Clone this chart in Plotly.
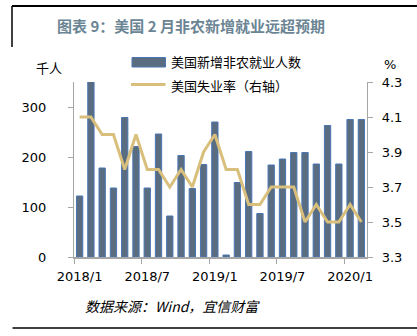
import plotly.graph_objects as go

# ---- data ----
months = ["2018/1", "2018/2", "2018/3", "2018/4", "2018/5", "2018/6", "2018/7", "2018/8",
          "2018/9", "2018/10", "2018/11", "2018/12", "2019/1", "2019/2", "2019/3", "2019/4",
          "2019/5", "2019/6", "2019/7", "2019/8", "2019/9", "2019/10", "2019/11", "2019/12",
          "2020/1", "2020/2"]
payrolls = [122, 355, 178, 138, 279, 221, 138, 246, 82, 203, 137, 185, 270, 4, 149, 211,
            87, 184, 196, 209, 209, 186, 263, 186, 275, 275]
unemployment = [4.1, 4.1, 4.0, 4.0, 3.8, 4.0, 3.8, 3.8, 3.7, 3.8, 3.7, 3.9, 4.0, 3.8, 3.8, 3.6,
                3.6, 3.7, 3.7, 3.7, 3.5, 3.6, 3.5, 3.5, 3.6, 3.5]
left_ticks = [0, 100, 200, 300]

title_text = "图表 9：美国 2 月非农新增就业远超预期"
bar_name = "美国新增非农就业人数"
line_name = "美国失业率（右轴）"
source_text = "数据来源：Wind，宜信财富"

# ---- layout geometry ----
W, H = 417, 336
ML, MR, MT, MB = 74, 50, 82, 79
PW, PH = W - ML - MR, H - MT - MB


def px(x):
    return (x - ML) / PW


def py(y):
    return (H - MB - y) / PH


BAR_FILL = "#5A6D80"
BAR_EDGE = "#4A76B4"
LINE_COL = "#D9BF7C"
AXIS_COL = "#A6A6A6"
TXT_FONT = "DejaVu Sans, Noto Sans CJK SC"
CJK_FONT = "Noto Sans CJK SC, DejaVu Sans"

fig = go.Figure()
fig.add_trace(go.Bar(x=months, y=payrolls, name=bar_name,
                     marker=dict(color=BAR_FILL, line=dict(color=BAR_EDGE, width=1)),
                     showlegend=False))
fig.add_trace(go.Scatter(x=months, y=unemployment, name=line_name, yaxis="y2",
                         mode="lines", line=dict(color=LINE_COL, width=3),
                         showlegend=False))

fig.update_layout(
    width=W, height=H,
    margin=dict(l=ML, r=MR, t=MT, b=MB, pad=0),
    paper_bgcolor="white", plot_bgcolor="white",
    bargap=0.44,
    font=dict(family=TXT_FONT, size=13, color="#000000"),
    xaxis=dict(type="category", tickmode="linear", tick0=0, dtick=6,
               tickson="boundaries", ticks="outside", ticklen=5, tickcolor=AXIS_COL,
               showline=True, linecolor=AXIS_COL, linewidth=2, showgrid=False,
               tickfont=dict(size=13, family=TXT_FONT), range=[-0.5, 25.5],
               ticklabelstandoff=6, tickangle=0),
    yaxis=dict(range=[0, 350], tickvals=left_ticks, ticks="outside", ticklen=5,
               tickcolor=AXIS_COL, showline=True, linecolor=AXIS_COL, linewidth=1.2,
               showgrid=False, zeroline=False, tickfont=dict(size=13, family=TXT_FONT),
               ticklabelstandoff=19),
    yaxis2=dict(range=[3.3, 4.3], dtick=0.2, tick0=3.3, tickformat=".1f", overlaying="y",
                side="right", ticks="outside", ticklen=5, tickcolor=AXIS_COL,
                showline=True, linecolor=AXIS_COL, linewidth=1.2, showgrid=False,
                zeroline=False, tickfont=dict(size=13, family=TXT_FONT),
                ticklabelstandoff=6),
    showlegend=False,
)

shapes = []
# frame lines
shapes.append(dict(type="line", xref="paper", yref="paper", x0=px(12), x1=px(417),
                   y0=py(6), y1=py(6), line=dict(color="black", width=2)))
shapes.append(dict(type="line", xref="paper", yref="paper", x0=px(12), x1=px(12),
                   y0=py(6), y1=py(47), line=dict(color="black", width=1.5)))
shapes.append(dict(type="line", xref="paper", yref="paper", x0=px(12.5), x1=px(417),
                   y0=py(328), y1=py(328), line=dict(color="black", width=1.5)))
# legend swatches
shapes.append(dict(type="rect", xref="paper", yref="paper", x0=px(132), x1=px(165.5),
                   y0=py(57.5), y1=py(67), fillcolor=BAR_FILL,
                   line=dict(color=BAR_EDGE, width=1)))
shapes.append(dict(type="line", xref="paper", yref="paper", x0=px(131), x1=px(165.5),
                   y0=py(84.5), y1=py(84.5), line=dict(color=LINE_COL, width=3)))
fig.update_layout(shapes=shapes)

ann = []
ann.append(dict(text="<b>" + title_text + "</b>", xref="paper", yref="paper",
                x=px(55), y=py(26), xanchor="left", yanchor="middle", showarrow=False,
                font=dict(family=CJK_FONT, size=15, color="#6B8594")))
ann.append(dict(text=bar_name, xref="paper", yref="paper", x=px(169), y=py(62),
                xanchor="left", yanchor="middle", showarrow=False,
                font=dict(family=CJK_FONT, size=13, color="black")))
ann.append(dict(text=line_name, xref="paper", yref="paper", x=px(169), y=py(85),
                xanchor="left", yanchor="middle", showarrow=False,
                font=dict(family=CJK_FONT, size=13, color="black")))
ann.append(dict(text="千人", xref="paper", yref="paper", x=px(48.5), y=py(68),
                xanchor="center", yanchor="middle", showarrow=False,
                font=dict(family=CJK_FONT, size=13, color="black")))
ann.append(dict(text="%", xref="paper", yref="paper", x=px(390), y=py(64),
                xanchor="center", yanchor="middle", showarrow=False,
                font=dict(family=TXT_FONT, size=13, color="black")))
ann.append(dict(text="<i>" + source_text + "</i>", xref="paper", yref="paper",
                x=px(83), y=py(306), xanchor="left", yanchor="middle", showarrow=False,
                font=dict(family=CJK_FONT, size=14, color="black")))
fig.update_layout(annotations=ann)

fig.write_html("out.html")
